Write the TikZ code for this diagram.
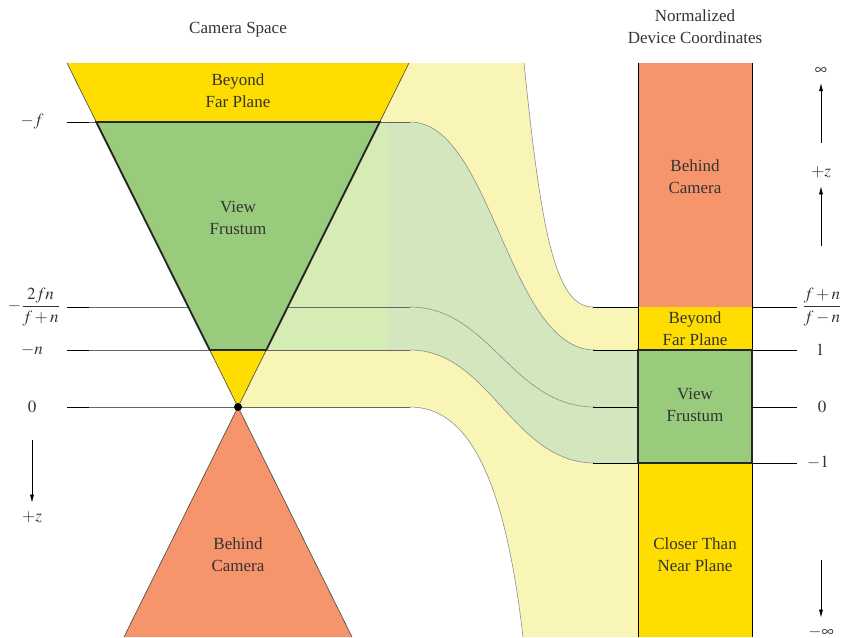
\documentclass[tikz,border=0pt]{standalone}
\usepackage{mathptmx}
\usepackage{fontspec}
\setmainfont{Liberation Serif}
\usetikzlibrary{arrows.meta}
\definecolor{gold}{RGB}{255,221,0}
\definecolor{leaf}{RGB}{152,204,124}
\definecolor{salmon}{RGB}{246,149,107}
\definecolor{paleyellow}{RGB}{249,245,183}
\definecolor{palegreen}{RGB}{212,230,190}
\definecolor{palegreenlt}{RGB}{214,236,181}
\definecolor{ink}{RGB}{51,51,51}

\begin{document}
\begin{tikzpicture}[x=0.03cm,y=-0.03cm,line width=.6pt,
  font=\fontsize{14.5}{18.5}\selectfont,
  lbl/.style={text=ink,align=center,inner sep=1pt},
  guide/.style={black!60,line width=.5pt},
  stub/.style={black,line width=.8pt},
  band/.style={black!45,line width=.5pt},
  edge/.style={draw=black!75,line width=.5pt},
  frame/.style={draw=black!85,line width=1.6pt},
  arr/.style={-{Latex[length=7pt,width=3.5pt]},line width=.6pt,shorten >=6pt}]
\useasboundingbox (0,0) rectangle (845,637);
% pale bands between the two spaces
\fill[paleyellow] (238,63) -- (524,63) .. controls (541,230) and (555,307) .. (593,307)
  -- (638,307) -- (638,637) -- (523,637) .. controls (504,470) and (465,407) .. (410,407)
  -- (238,407) -- cycle;
\fill[palegreen] (238,122) -- (410,122) .. controls (492,122) and (508,350) .. (595,350)
  -- (638,350) -- (638,463) -- (595,463) .. controls (512,463) and (490,350) .. (410,350)
  -- (238,350) -- cycle;
\fill[palegreenlt] (238,122) rectangle (387,350);
\draw[band] (524,63) .. controls (541,230) and (555,307) .. (593,307);
\draw[band] (410,122) .. controls (492,122) and (508,350) .. (595,350);
\draw[band] (410,307) .. controls (490,307) and (512,407) .. (595,407);
\draw[band] (410,350) .. controls (490,350) and (512,463) .. (595,463);
\draw[band] (410,407) .. controls (465,407) and (504,470) .. (523,637);
% level lines
\foreach \y in {122,307,350,407}{
  \draw[guide] (67,\y) -- (410,\y);
  \draw[stub] (67,\y) -- (89,\y);
}
\foreach \y in {307,350,407,463}{
  \draw[stub] (593,\y) -- (638,\y);
  \draw[stub] (752,\y) -- (797,\y);
}
% camera space
\fill[gold] (67,63) -- (409,63) -- (379.7,122) -- (96.3,122) -- cycle;
\draw[edge] (67,63) -- (96.3,122) (409,63) -- (379.7,122);
\filldraw[fill=leaf,frame] (96.3,122) -- (379.7,122) -- (266.3,350) -- (209.7,350) -- cycle;
\filldraw[fill=gold,edge] (209.7,350) -- (266.3,350) -- (238,407) -- cycle;
\draw[frame] (209.7,350) -- (266.3,350);
\fill[salmon] (238,407) -- (352,637) -- (124,637) -- cycle;
\draw[edge] (124,637) -- (238,407) -- (352,637);
\node[circle,fill=black,inner sep=0pt,minimum size=0.24cm] (eye) at (238,407) {};
% NDC column
\fill[salmon] (638,63) rectangle (752,307);
\fill[gold] (638,307) rectangle (752,350);
\fill[gold] (638,463) rectangle (752,637);
\draw[line width=.8pt] (638,63) -- (638,637) (752,63) -- (752,637);
\filldraw[fill=leaf,frame] (638,350) rectangle (752,463);
% titles and region names
\node[lbl] (camtitle) at (238,30) {Camera Space};
\node[lbl] (ndctitle) at (695,27) {Normalized\\Device Coordinates};
\node[lbl] (beyondL) at (238,91) {Beyond\\Far Plane};
\node[lbl] (viewL) at (238,218) {View\\Frustum};
\node[lbl] (behindL) at (238,555) {Behind\\Camera};
\node[lbl] (behindR) at (695,177) {Behind\\Camera};
\node[lbl] (beyondR) at (695,329) {Beyond\\Far Plane};
\node[lbl] (viewR) at (695,405) {View\\Frustum};
\node[lbl] (closerR) at (695,555) {Closer Than\\Near Plane};
% left axis
\node[lbl] (zf) at (32,122) {$-f$};
\node[lbl] (zmid) at (34,307) {$-\displaystyle\frac{2fn}{f+n}$};
\node[lbl] (zn) at (32,350) {$-n$};
\node[lbl] (zzero) at (32,407) {$0$};
\node[lbl] (zplus) at (32,517) {$+z$};
\coordinate (ztail) at (32,440);
\draw[arr] (ztail) -- (zplus);
% right axis
\node[lbl] (nfrac) at (822,307) {$\displaystyle\frac{f+n}{f-n}$};
\node[lbl] (none) at (820,350) {$1$};
\node[lbl] (nzero) at (822,407) {$0$};
\node[lbl] (nminus) at (818,463) {$-1$};
\node[lbl] (ninf) at (821,71) {$\infty$};
\node[lbl] (nplus) at (821,172) {$+z$};
\node[lbl] (nminf) at (821,632) {$-\infty$};
\coordinate (inftail) at (821,143);
\coordinate (plustail) at (821,246);
\coordinate (minftail) at (821,560);
\draw[arr] (inftail) -- (ninf);
\draw[arr] (plustail) -- (nplus);
\draw[arr] (minftail) -- (nminf);
\end{tikzpicture}
\end{document}
